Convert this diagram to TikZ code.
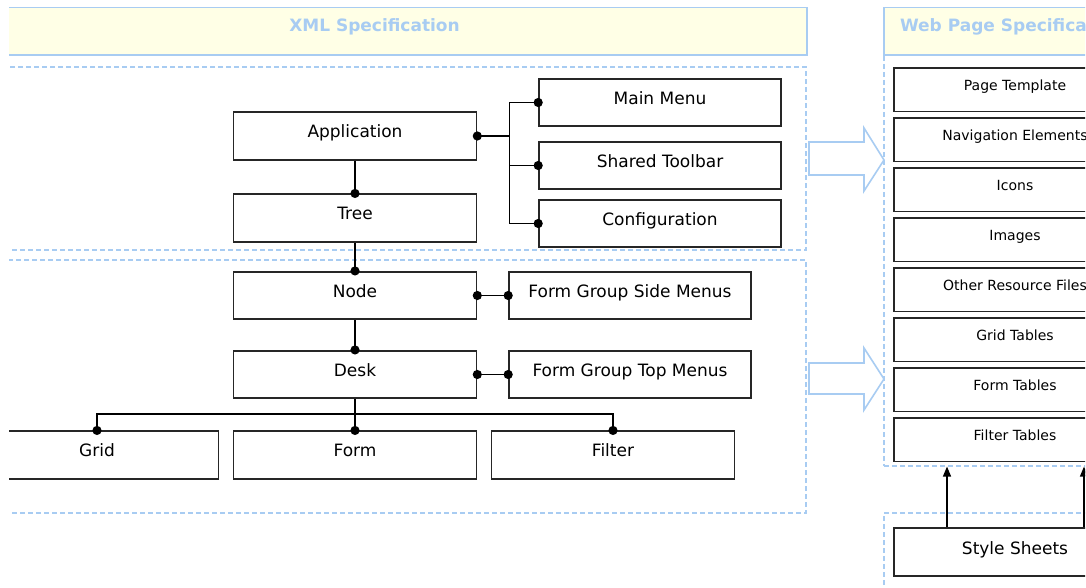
\documentclass[tikz,border=0pt]{standalone}
\usepackage{fontspec}
\setmainfont{DejaVu Sans}
\usetikzlibrary{arrows.meta}
\definecolor{lb}{HTML}{A8CCF2}
\definecolor{ttl}{HTML}{FFFFE6}
\definecolor{bx}{HTML}{262626}
\begin{document}
\begin{tikzpicture}[x=1pt,y=-1pt,
 box/.style={draw=bx, line width=1.6pt, fill=white, inner sep=0pt, minimum width=243pt,
   text height=25.5pt, text depth=22pt, font=\fontsize{17}{20}\selectfont},
 wbox/.style={draw=bx, line width=1.6pt, fill=white, inner sep=0pt, minimum width=242pt,
   text height=22.7pt, text depth=20.8pt, font=\fontsize{14}{17}\selectfont},
 cont/.style={draw=lb, dash pattern=on 5pt off 3pt, line width=1.1pt, inner sep=0pt},
 ttlbox/.style={draw=lb, line width=1.6pt, fill=ttl, inner sep=0pt, text=lb,
   text height=24.5pt, text depth=23pt, font=\bfseries\fontsize{17}{20}\selectfont},
 conn/.style={draw=black, line width=1.4pt},
 hollow/.style={draw=lb, line width=1.6pt, fill=white, line join=miter},
 arr/.style={conn, -{Triangle[length=10pt,width=8pt]}}
]
\useasboundingbox (0,0) rectangle (1086,588);
\clip (9,0) rectangle (1085,588);

% containers
\node[cont, minimum width=866pt, minimum height=183pt] (upper) at (373,158.5) {};
\node[cont, minimum width=866pt, minimum height=253pt] (lower) at (373,386.5) {};
\node[cont, minimum width=266pt, minimum height=411pt] (webc) at (1017,260.5) {};
\node[cont, minimum width=266pt, minimum height=97pt] (stc) at (1017,561.5) {};

% titles
\node[ttlbox, minimum width=865pt] (xmlt) at (374.5,31.25) {XML Specification};
\node[ttlbox, minimum width=266pt] (webt) at (1017,31.25) {\makebox[234pt][l]{Web Page Specification}};

% left boxes
\node[box] (app) at (355,136) {Application};
\node[box] (tree) at (355,218) {Tree};
\node[box, minimum width=242pt] (mm) at (660,102.5) {Main Menu};
\node[box, minimum width=242pt] (st) at (660,165.5) {Shared Toolbar};
\node[box, minimum width=242pt] (cf) at (660,223.5) {Configuration};
\node[box] (node) at (355,295.5) {Node};
\node[box] (desk) at (355,374.5) {Desk};
\node[box, minimum width=242pt] (fgsm) at (630,295.5) {Form Group Side Menus};
\node[box, minimum width=242pt] (fgtm) at (630,374.5) {Form Group Top Menus};
\node[box] (grid) at (97,455) {Grid};
\node[box] (form) at (355,455) {Form};
\node[box] (filter) at (613,455) {Filter};

% right boxes
\foreach \t [count=\i] in {Page Template, Navigation Elements, Icons, Images,
  Other Resource Files, Grid Tables, Form Tables, Filter Tables}
  \node[wbox] (w\i) at (1015, 39.75+50*\i) {\t};
\node[box, minimum width=242pt, text height=26pt, text depth=22pt] (ss) at (1015,552) {Style Sheets};

% connectors
\draw[conn] (app.east) -- ++(32,0) coordinate (j1);
\draw[conn] (mm.west) -- (mm.west -| j1) -- (cf.west -| j1) -- (cf.west);
\draw[conn] (st.west) -- (st.west -| j1);
\draw[conn] (app.south) -- (tree.north);
\draw[conn] (tree.south) -- (node.north);
\draw[conn] (node.south) -- (desk.north);
\draw[conn] (node.east) -- (fgsm.west);
\draw[conn] (desk.east) -- (fgtm.west);
\coordinate (bus) at (0,414);
\draw[conn] (desk.south) -- (form.north);
\draw[conn] (grid.north) -- (grid.north |- bus) -- (filter.north |- bus) -- (filter.north);
\foreach \p in {app.east, mm.west, st.west, cf.west, tree.north, node.north, desk.north,
  node.east, fgsm.west, desk.east, fgtm.west, grid.north, form.north, filter.north}
  \fill (\p) circle (4.6pt);

% hollow arrows
\draw[hollow] (809,142) -- (864,142) -- (864,128) -- (884,160) -- (864,191) -- (864,175) -- (809,175) -- cycle;
\draw[hollow] (809,363) -- (864,363) -- (864,348) -- (884,379) -- (864,410) -- (864,394) -- (809,394) -- cycle;

% style sheet arrows
\coordinate (a1) at (947,0);
\coordinate (a2) at (1084,0);
\draw[arr] (ss.north -| a1) -- (webc.south -| a1);
\draw[arr] (ss.north -| a2) -- (webc.south -| a2);
\end{tikzpicture}
\end{document}
